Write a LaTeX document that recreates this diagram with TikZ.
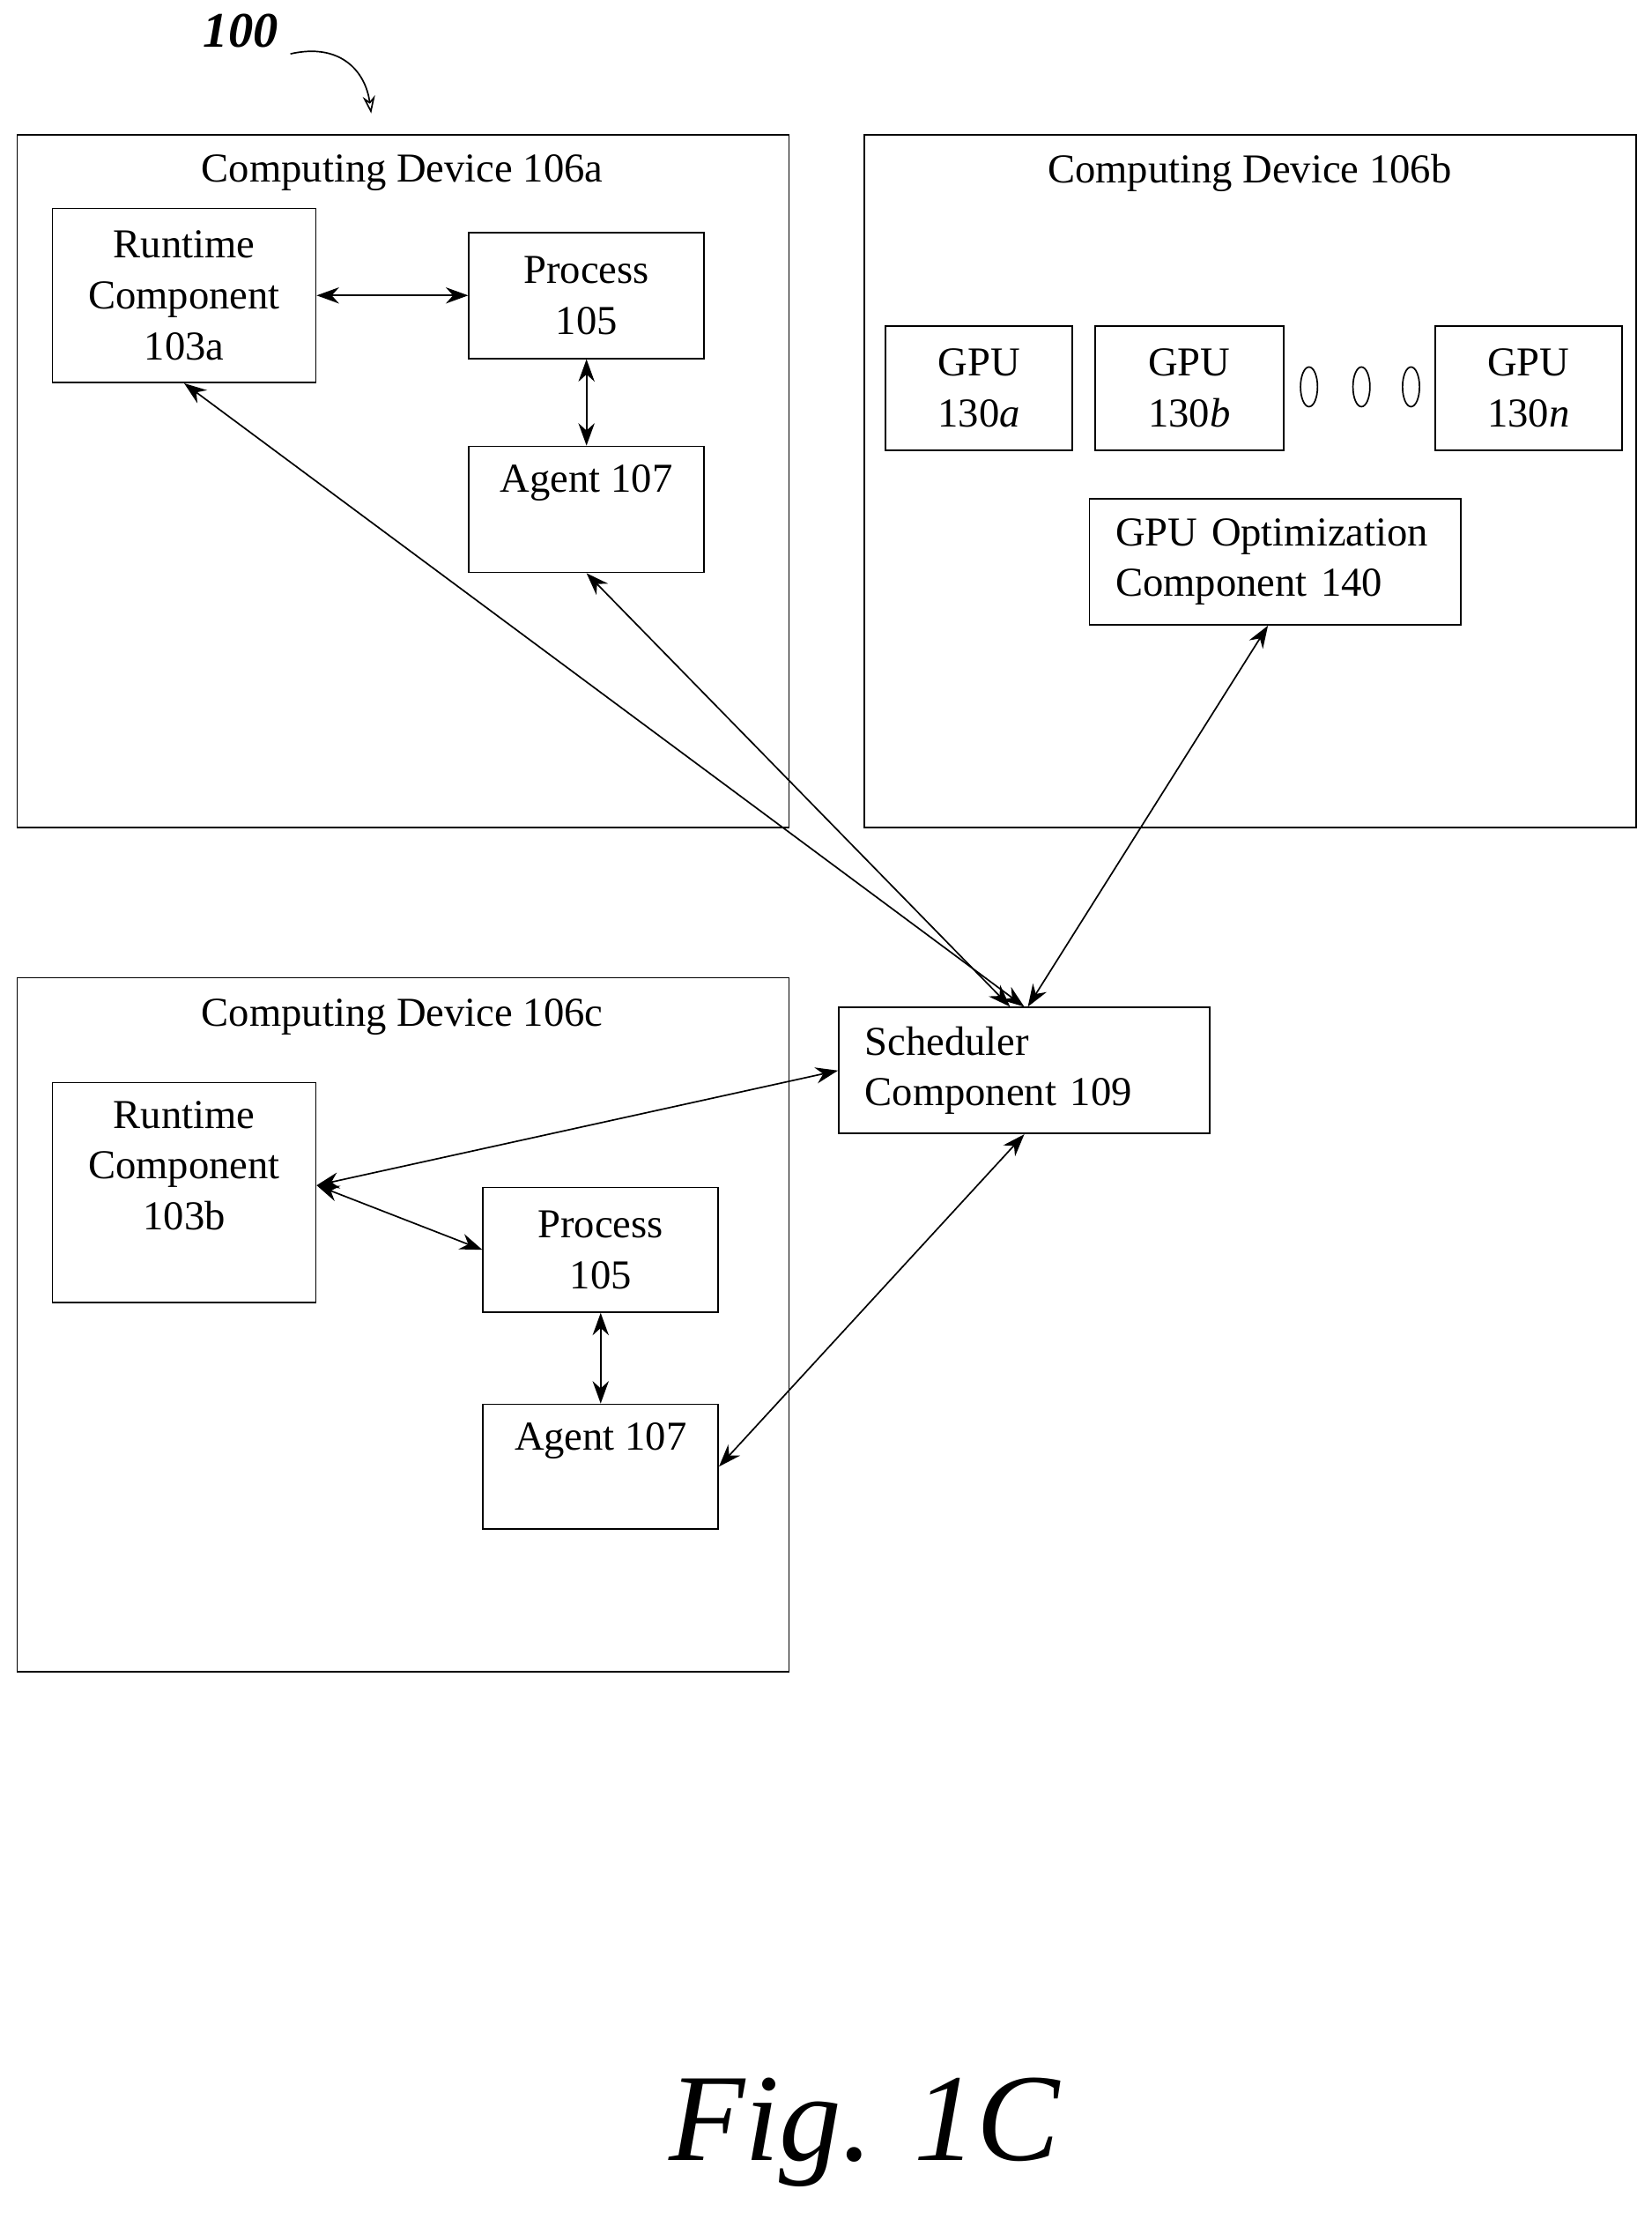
\documentclass[tikz,border=0pt]{standalone}
\usepackage{fontspec}
\setmainfont{Liberation Serif}
\usetikzlibrary{arrows.meta,positioning}
\begin{document}
\begin{tikzpicture}[x=0.02cm,y=-0.02cm,<->,>={Stealth[length=9pt,width=6.5pt]},line width=0.6pt,
                    font=\fontsize{16.5}{20.5}\selectfont]
  \tikzstyle{box}=[draw,rectangle,inner sep=2pt,align=center]
  \tikzstyle{plain}=[draw=none,align=center]
  \useasboundingbox (0,0) rectangle (1166,1566);

  % computing devices
  \node[box,minimum width=10.9cm,minimum height=9.78cm] (devA) at (284.5,339.5) {};
  \node[box,minimum width=10.9cm,minimum height=9.78cm] (devB) at (882.5,339.5) {};
  \node[box,minimum width=10.9cm,minimum height=9.8cm]  (devC) at (284.5,935) {};
  \node[plain] (devAlbl) at (284,122) {Computing Device 106a};
  \node[plain] (devBlbl) at (882,122) {Computing Device 106b};
  \node[plain] (devClbl) at (284,718) {Computing Device 106c};

  % device a
  \node[box,minimum width=3.72cm,minimum height=2.46cm] (rtA) at (130,208.5) {Runtime\\Component\\103a};
  \node[box,minimum width=3.32cm,minimum height=1.78cm] (procA) at (414,208.5) {Process\\105};
  \node[box,minimum width=3.32cm,minimum height=1.78cm] (agA) at (414,359.5) {};
  \node[plain,below=4pt of agA.north] (agAlbl) {Agent 107};

  % device b
  \node[box,minimum width=2.64cm,minimum height=1.76cm] (gpuA) at (691,274) {GPU\\130\textit{a}};
  \node[box,minimum width=2.66cm,minimum height=1.76cm] (gpuB) at (839.5,274) {GPU\\130\textit{b}};
  \node[box,minimum width=2.64cm,minimum height=1.76cm] (gpuN) at (1079,274) {GPU\\130\textit{n}};
  \foreach \x in {924,961,996}
    \draw[-] (\x,273) ellipse (6 and 14);
  \node[box,minimum width=5.24cm,minimum height=1.78cm,align=left,text width=4.5cm] (gpuOpt) at (900,396.5) {GPU Optimization\\Component 140};

  % scheduler
  \node[box,minimum width=5.24cm,minimum height=1.78cm,align=left,text width=4.5cm] (sched) at (723,755.5) {Scheduler\\Component 109};

  % device c
  \node[box,minimum width=3.72cm,minimum height=3.1cm] (rtB) at (130,841.5) {};
  \node[plain,below=4pt of rtB.north] (rtBlbl) {Runtime\\Component\\103b};
  \node[box,minimum width=3.32cm,minimum height=1.76cm] (procC) at (424,882) {Process\\105};
  \node[box,minimum width=3.32cm,minimum height=1.76cm] (agC) at (424,1035) {};
  \node[plain,below=4pt of agC.north] (agClbl) {Agent 107};

  % connectors
  \draw (rtA) -- (procA);
  \draw (procA) -- (agA);
  \draw (rtA.south) -- (sched.north);
  \draw (agA.south) -- ([xshift=-0.2cm]sched.north);
  \draw ([xshift=-0.1cm]gpuOpt.south) -- ([xshift=0.05cm]sched.north);
  \draw (sched.west) -- ([yshift=0.1cm]rtB.east);
  \draw ([yshift=0.1cm]rtB.east) -- (procC.west);
  \draw (procC) -- (agC);
  \draw (agC.east) -- (sched.south);

  % figure labels
  \node[plain,font=\fontsize{20}{24}\selectfont\bfseries\itshape] (num) at (170,22) {100};
  \coordinate (numTip) at (262,80);
  \draw[->,>={Stealth[length=7pt,width=5pt,open]}] (205,38) .. controls (240,30) and (258,50) .. (numTip);
  \node[plain,font=\fontsize{50}{56}\selectfont\itshape] (fig) at (610,1505) {Fig. 1C};
\end{tikzpicture}
\end{document}
